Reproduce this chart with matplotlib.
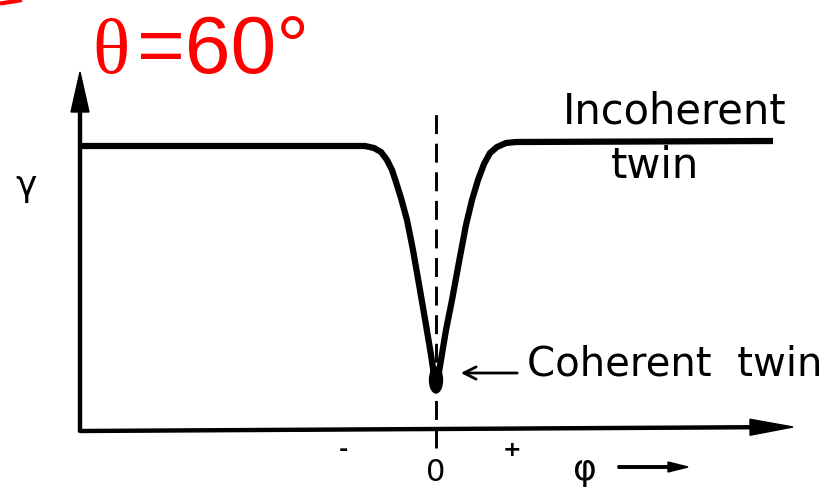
import matplotlib
matplotlib.use("Agg")
import matplotlib.pyplot as plt
import matplotlib.patches as patches

# Schematic boundary energy vs. inclination (arbitrary units)
phi = [-35.5, -7.0, -6.1, -5.4, -4.8, -4.3, -3.9, -3.4, -2.8, -2.2, -1.5, -0.9, -0.4, -0.1, 0.1,
       0.3, 0.6, 1.1, 1.7, 2.4, 3.1, 3.7, 4.3, 4.9, 5.5, 6.2, 7.1, 8.1, 33.8]
gamma = [28.4, 28.4, 28.2, 27.8, 27.0, 26.0, 24.8, 23.2, 21.0, 18.0, 14.0, 10.5, 7.5, 5.5, 4.5,
         5.2, 7.0, 10.0, 13.0, 16.8, 20.5, 23.0, 25.0, 26.6, 27.7, 28.3, 28.7, 28.8, 28.9]

tick_pos = [-9.2, 0.1, 7.7]
tick_labels = ["-", "0", "+"]

fig = plt.figure(figsize=(8.33, 4.9), dpi=100)
ax = fig.add_axes([0, 0, 1, 1])
ax.set_xlim(-43.5, 39.8)
ax.set_ylim(-6, 43)
ax.axis("off")

# axes with arrow heads
ax.arrow(-35.5, -0.2, 0, 36.0, width=0.3, head_width=1.8, head_length=4.0,
         length_includes_head=True, fc="black", ec="black")
ax.arrow(-35.5, -0.1, 71.3, 0.4, width=0.3, head_width=1.6, head_length=4.3,
         length_includes_head=True, fc="black", ec="black")

# dashed line at phi = 0
ax.plot([0.1, 0.1], [-1.8, 32.3], color="black", lw=2.1, dashes=(6.5, 3.3))

# the curve
ax.plot(phi, gamma, color="black", lw=4.5, solid_joinstyle="round", solid_capstyle="butt")
ax.add_patch(patches.Ellipse((0.1, 5.0), 1.3, 2.6, color="black"))

# labels
ax.text(-34.3, 35.7, "θ", color="red", fontsize=56, family="Liberation Serif", va="baseline")
ax.text(-29.8, 35.7, "=60°", color="red", fontsize=59, family="Liberation Sans", va="baseline")
ax.plot([-43.5, -42.5, -41.3], [42.65, 42.8, 43.0], color="red", lw=3, solid_capstyle="butt")

ax.text(-40.9, 24.4, "γ", fontsize=26, ha="center", va="center")
ax.text(12.8, 30.7, "Incoherent", fontsize=30, va="baseline")
ax.text(17.6, 25.2, "twin", fontsize=30, va="baseline")
ax.text(9.2, 5.5, "Coherent  twin", fontsize=29, va="baseline")
ax.annotate("", xy=(2.3, 5.7), xytext=(8.5, 5.7),
            arrowprops=dict(arrowstyle="->", lw=2, color="black", mutation_scale=22))

for x, lab in zip(tick_pos, tick_labels):
    if lab == "0":
        ax.text(x, -4.2, lab, fontsize=22, ha="center", va="center")
    else:
        ax.text(x, -2.0, lab, fontsize=16, ha="center", va="center", fontweight="bold")

ax.text(15.0, -4.0, "φ", fontsize=26, ha="center", va="center")
ax.arrow(18.3, -3.7, 7.0, 0, width=0.25, head_width=1.0, head_length=2.0,
         length_includes_head=True, fc="black", ec="black")

fig.savefig("out.png", dpi=100)
